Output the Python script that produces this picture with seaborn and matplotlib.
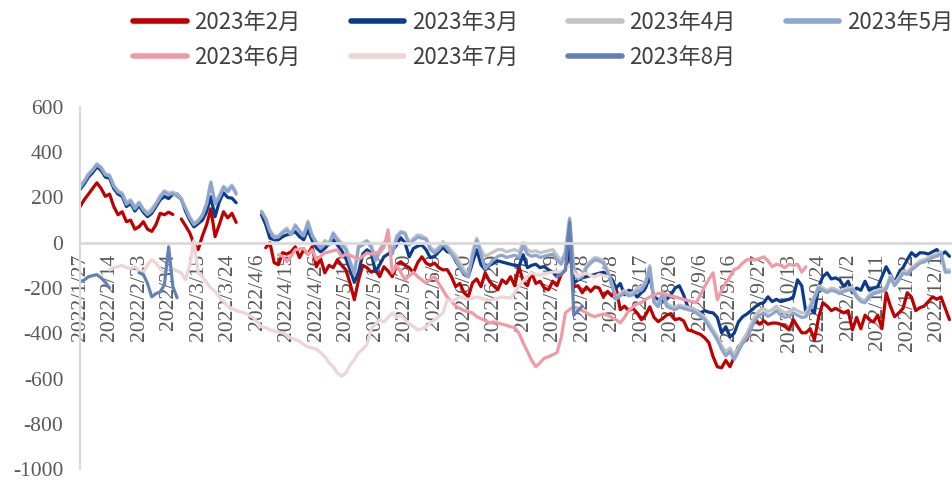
import numpy as np
import pandas as pd
import matplotlib
matplotlib.use("Agg")
import matplotlib.pyplot as plt
import seaborn as sns
from matplotlib.lines import Line2D

# 交易日（2022 年，剔除节假日）
holidays = ["2022-01-31", "2022-02-01", "2022-02-02", "2022-02-03", "2022-02-04",
            "2022-04-04", "2022-04-05", "2022-05-02", "2022-05-03", "2022-05-04",
            "2022-06-03", "2022-09-12", "2022-10-03", "2022-10-04", "2022-10-05",
            "2022-10-06", "2022-10-07"]
n_days = 207
days = pd.bdate_range("2022-01-27", "2022-12-31")
days = days[~days.isin(pd.to_datetime(holidays))][:n_days]
day_labels = [f"{d.year}/{d.month}/{d.day}" for d in days]

names = ["2023年2月", "2023年3月", "2023年4月", "2023年5月", "2023年6月", "2023年7月", "2023年8月"]
colors = ["#C00000", "#0B3C8C", "#C3C3C3", "#8EA6CF", "#F09AA6", "#EDD5D6", "#6282B6"]

# (起始交易日序号, 数值)
feb = [
    (0, [159, 190, 215, 240, 265, 240, 205, 215, 160, 124, 137, 93, 100, 60, 71, 93, 60, 50, 80, 130,
         124, 135, 125]),
    (24, [105, 75, 44, -5, -30, 30, 80, 150, 27, 80, 137, 110, 130, 90]),
    (44, [-22, 0, -88, -97, -44, -50, -40, -18, -66, -31, -50, -18, -106, -70]),
    (58, [-133, -100, -110, -75, -100, -120, -180, -252, -164, -100, -110, -130, -120, -150, -106,
          -125, -150, -97, -84, -100, -110, -133, -88, -62, -90, -100, -90, -110, -120]),
    (87, [-119, -150, -194, -180, -221, -239, -177, -160, -194, -133, -170, -190, -208, -164, -180,
          -150, -190, -106, -170, -190, -133, -180, -170, -200, -208, -170, -190, -140]),
    (115, [-120, -31, -194, -190, -221, -195, -215, -195, -200, -239, -215, -235, -200, -296, -280,
           -300, -290, -310, -340, -320, -283, -330, -349, -335, -320, -313, -340, -335, -345]),
    (144, [-385, -390, -398, -405, -420, -442, -504, -548, -553, -520, -548, -504, -460, -440, -429,
           -371, -340, -360, -345, -360, -355, -355, -360, -370, -385, -340, -370, -398]),
    (172, [-398, -380, -429, -330, -265, -280, -300, -290, -300, -310, -300, -385, -330, -380, -320,
           -340, -350, -320, -380, -221, -280, -327, -310, -290, -221, -240, -300, -287, -280, -260,
           -239, -250, -240, -290, -340]),
]
mar = [
    (0, [235, 260, 290, 310, 335, 320, 290, 285, 240, 215, 205, 160, 175, 140, 165, 135, 115, 130, 160,
         190, 205, 195, 215, 215, 195, 140, 100, 70, 85, 100, 137, 203, 115, 181, 221, 200, 197, 177]),
    (43, [124, 80, 20, 13, 13, 27, 35, 40, 49, 27, 13, 57, 10, -22, -40]),
    (58, [-25, -5, 13, -10, -35, -70, -120, -175, -130, -50, -31, -45, -128, -97, -62, -50, -35, -10,
          22, 0, -62, -25, -15, -10, -31, -66, -60, -40, -20]),
    (87, [-40, -44, -80, -110, -140, -150, -88, -31, -97, -120, -100, -90, -80, -85, -90, -95, -100,
          -106, -53, -110, -100, -95, -110, -105, -120, -130, -150, -130]),
    (115, [-120, -20, -177, -165, -155, -150, -145, -140, -135, -130, -140, -160, -200, -180, -230,
           -210, -215, -240, -220, -200, -150, -240, -250, -255, -250, -230, -200, -190, -230]),
    (144, [-283, -290, -300, -310, -300, -307, -310, -330, -398, -371, -416, -400, -350, -327, -315,
           -300, -283, -270, -265, -239, -260, -250, -260, -255, -250, -240, -164, -190]),
    (172, [-310, -290, -310, -194, -150, -133, -160, -155, -165, -194, -170, -221, -200, -210, -170,
           -210, -200, -195, -150, -106, -140, -177, -133, -110, -75, -44, -60, -44, -45, -50, -40,
           -30, -55, -40, -60]),
]
apr = [
    (0, [250, 275, 305, 325, 350, 335, 305, 300, 255, 230, 220, 180, 190, 160, 180, 150, 135, 150, 175,
         210, 230, 220, 225, 212, 195, 155, 115, 85, 100, 125, 175, 270, 180, 210, 250, 235, 255, 225]),
    (43, [140, 110, 55, 30, 30, 50, 65, 40, 80, 55, 35, 95, 35, 5, -15]),
    (58, [10, 0, 45, 20, 0, -20, -80, -130, -10, 0, 10, -10, -70, -30, 0, 15, -40, 30, 50, 45, 0, 20,
          35, 30, 20, -20, -35, -20, 5]),
    (87, [-15, -35, -55, -90, -120, -140, -40, 20, -30, -60, -50, -40, -30, -30, -40, -35, -30, -40, 0,
          -30, -40, -35, -45, -40, -35, -30, -55, -80]),
    (115, [-40, 110, -110, -150, -140, -100, -80, -65, -70, -80, -120, -180, -240, -225, -210, -225,
           -220, -200, -195, -170, -100, -255, -270, -220, -270, -280, -285, -275, -280]),
    (144, [-285, -290, -300, -315, -330, -355, -385, -415, -455, -480, -465, -500, -465, -430, -400,
           -360, -320, -300, -290, -305, -295, -280, -300, -310, -305, -290, -300, -310]),
    (172, [-310, -275, -235, -190, -200, -210, -200, -205, -215, -205, -200, -198, -230, -250, -255,
           -230, -215, -210, -205, -195, -145, -180, -155, -125, -130, -110, -96, -80, -75, -65, -55,
           -50, -40, -120, -120]),
]
may = [
    (0, [243, 270, 300, 320, 345, 330, 300, 295, 250, 225, 215, 170, 185, 150, 175, 145, 125, 140, 170,
         200, 225, 212, 218, 205, 190, 150, 110, 80, 95, 120, 170, 265, 170, 200, 245, 225, 250, 215]),
    (43, [137, 105, 50, 22, 25, 44, 57, 35, 75, 50, 30, 90, 30, 0, -25]),
    (58, [0, -10, 40, 10, -10, -30, -90, -140, -20, -10, 5, -20, -80, -40, -10, 5, -50, 20, 45, 40, -10,
          10, 25, 20, 15, -30, -45, -30, -5]),
    (87, [-25, -50, -75, -110, -135, -150, -60, 10, -50, -115, -95, -75, -60, -55, -65, -60, -55, -65,
          -10, -50, -60, -55, -65, -60, -55, -50, -75, -95]),
    (115, [-50, 105, -120, -160, -150, -110, -90, -75, -80, -90, -130, -190, -250, -235, -220, -235,
           -230, -215, -210, -180, -110, -265, -283, -230, -280, -290, -296, -285, -290]),
    (144, [-296, -300, -310, -325, -340, -370, -398, -430, -470, -500, -480, -517, -480, -445, -420,
           -380, -340, -320, -310, -325, -315, -300, -320, -330, -325, -310, -320, -330]),
    (172, [-327, -290, -245, -200, -210, -220, -210, -215, -225, -215, -210, -208, -240, -260, -265,
           -240, -225, -220, -215, -205, -155, -190, -165, -135, -140, -120, -106, -90, -85, -75, -65,
           -60, -50, -130, -130]),
]
jun = [
    (47, [-53, -60, -84, -60, -31, -28, -25, -53, -31, -75, -60, -45, -40, -35, -31, -62, -50, -55, -65,
          -75, -60, -45, -50, -45, -44, -20, 57, -133, -100, -130, -164, -145, -130, -150, -165, -178,
          -160, -150, -180, -210]),
    (87, [-240, -260, -280, -290, -300, -305, -310, -327, -335, -345, -354, -350, -355, -360, -365,
          -371, -375, -400, -442, -480, -520, -548, -530, -510, -504, -495, -486, -420]),
    (115, [-310, -295, -283, -290, -300, -310, -320, -327, -320, -315, -320, -330, -340, -354, -330,
           -300, -283, -270, -265, -250, -240, -230, -225, -221, -230, -235]),
    (141, [-239, -245, -250, -255, -260, -265, -230, -194, -160, -133, -252, -210, -177, -150, -119,
           -110, -90, -75, -75, -75, -70, -62, -80, -106, -95, -100, -110, -95, -100, -95, -130, -106]),
]
jul = [
    (7, [-120, -110, -105, -100, -110, -115, -105, -125, -130, -97, -75, -90, -115, -133, -110, -115,
         -125, -133, -164, -100, 10, -133]),
    (29, [-150, -177, -200, -215, -240, -260, -280, -290, -300, -305, -310, -320, -330, -350, -371,
          -375, -385, -390, -395, -398, -410, -420, -429, -435, -450, -460, -465, -470, -486]),
    (58, [-504, -530, -548, -575, -590, -575, -540, -517, -486, -470, -450, -380, -360, -340, -350,
          -330, -310, -330, -320, -340, -360, -370, -385, -380, -370, -355, -340, -325, -310]),
    (87, [-252, -260, -250, -239, -245, -250, -245, -240, -245, -250, -255, -250, -245, -240, -242,
          -245, -220, -190, -170, -150, -133, -140, -145, -135, -133, -130, -128, -130, -115, -100,
          -130, -150, -140, -135, -145, -150, -140, -145, -150]),
]
aug = [
    (0, [-172, -165, -150, -145, -141, -155, -175, -199]),
    (14, [-133, -140, -180, -239, -225, -217, -186, -18, -194, -243]),
    (113, [-150, -140, -120, 90, -320, -300, -280]),
]
series_data = dict(zip(names, [feb, mar, apr, may, jun, jul, aug]))

rows = []
for name in names:
    full = np.full(n_days, np.nan)
    for start, vals in series_data[name]:
        full[start:start + len(vals)] = vals
    seg = np.cumsum(np.isnan(full))
    for i in range(n_days):
        if not np.isnan(full[i]):
            rows.append((name, i, full[i], seg[i]))
df = pd.DataFrame(rows, columns=["series", "idx", "value", "seg"])

sns.set_style("white")
plt.rcParams["lines.solid_joinstyle"] = "round"
plt.rcParams["lines.solid_capstyle"] = "round"

fig = plt.figure(figsize=(9.52, 4.83), dpi=100)
ax = fig.add_axes([80 / 952, 14 / 483, 872 / 952, 362 / 483])
sns.lineplot(data=df, x="idx", y="value", hue="series", units="seg", estimator=None,
             hue_order=names, palette=dict(zip(names, colors)), linewidth=2.3,
             legend=False, sort=True, ax=ax)

ax.set_xlim(0, 206.6)
ax.set_ylim(-1000, 600)
ax.set_xlabel("")
ax.set_ylabel("")
for s in ["top", "right"]:
    ax.spines[s].set_visible(False)
ax.spines["left"].set_color("#D9D9D9")
ax.spines["left"].set_linewidth(1.5)
ax.spines["bottom"].set_position(("data", 0))
ax.spines["bottom"].set_color("#D9D9D9")
ax.spines["bottom"].set_linewidth(2)

serif = "Liberation Serif"
ax.set_yticks(range(-1000, 601, 200))
ax.set_yticklabels([str(v) for v in range(-1000, 601, 200)], fontfamily=serif, fontsize=15.5,
                   color="#595959")
ax.tick_params(axis="y", length=6, width=1.5, color="#D9D9D9", pad=6)

major = list(range(0, n_days, 7))
ax.set_xticks(major)
ax.set_xticklabels([day_labels[i] for i in major], rotation=90, fontfamily=serif, fontsize=15.5,
                   color="#595959")
ax.set_xticks(list(range(0, n_days, 3)), minor=True)
ax.tick_params(axis="x", which="major", length=0, pad=8)
ax.tick_params(axis="x", which="minor", length=7, width=1.5, color="#D9D9D9", direction="out")

# 图例按行排列：第一行 2-5 月，第二行 6-8 月
order = [0, 4, 1, 5, 2, 6, 3]
handles = [Line2D([0], [0], color=colors[k], lw=4) for k in order]
fig.legend(handles, [names[k] for k in order], ncol=4, loc="upper left",
           bbox_to_anchor=(120 / 952, 1.006), frameon=False, handlelength=2.4,
           handletextpad=0.35, columnspacing=2.25, labelspacing=0.55, borderaxespad=0.2,
           prop={"family": ["Noto Sans CJK SC"], "size": 16}, labelcolor="#404040")

fig.savefig("out.png", dpi=100)
